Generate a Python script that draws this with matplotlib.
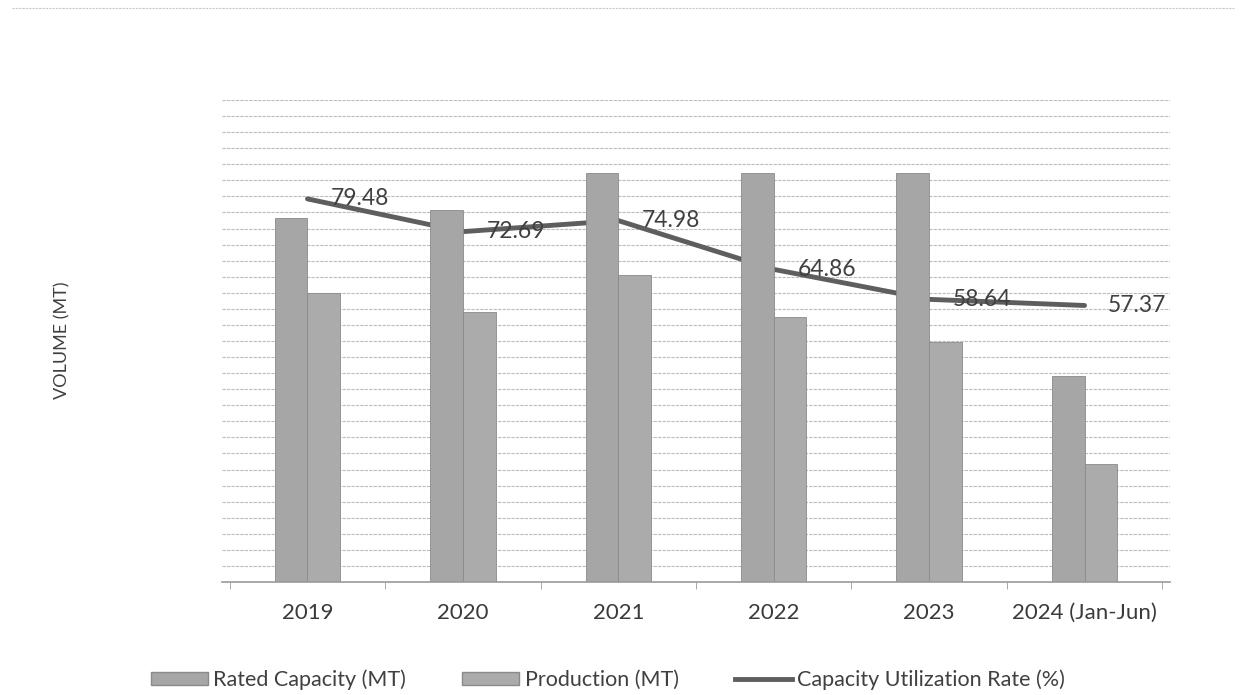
import matplotlib
matplotlib.use("Agg")
import matplotlib.pyplot as plt
from matplotlib.lines import Line2D
from matplotlib.patches import Patch
import numpy as np

categories = ["2019", "2020", "2021", "2022", "2023", "2024 (Jan-Jun)"]
rated_capacity = [226.5, 231.5, 254.5, 254.5, 254.5, 128.0]
production = [180.0, 168.3, 190.8, 165.1, 149.2, 73.4]
utilization = [79.48, 72.69, 74.98, 64.86, 58.64, 57.37]

plt.rcParams['font.family'] = ['Lato', 'DejaVu Sans']

fig = plt.figure(figsize=(12.46, 6.95), dpi=100)
ax = fig.add_axes([222/1246, 1-582/695, (1170-222)/1246, (582-100)/695])
ax.set_axisbelow(True)

x = np.arange(len(categories))
w = 0.21
bar_color = '#a6a6a6'
prod_color = '#ababab'
ax.bar(x - w/2, rated_capacity, width=w, color=bar_color, edgecolor='#8a8a8a', linewidth=0.6, zorder=2)
ax.bar(x + w/2, production, width=w, color=prod_color, edgecolor='#8a8a8a', linewidth=0.6, zorder=2)

ax.set_xlim(-0.55, len(categories) - 0.45)
ax.set_ylim(0, 300)
ax.set_yticks(np.arange(0, 301, 10))
ax.yaxis.grid(True, color='#bdbdbd', linewidth=0.8, linestyle=(0, (3, 1)))
ax.tick_params(axis='y', length=0, labelleft=False)
for s in ['left', 'right', 'top']:
    ax.spines[s].set_visible(False)
ax.spines['bottom'].set_color('#9a9a9a')
ax.spines['bottom'].set_linewidth(1.2)
ax.spines['bottom'].set_zorder(3)

ax.set_xticks(x)
ax.set_xticklabels(categories, fontsize=16, color='#3a3a3a')
ax.tick_params(axis='x', which='major', length=0, pad=15)
ax.set_xticks(np.arange(-0.5, len(categories), 1), minor=True)
ax.tick_params(axis='x', which='minor', length=5, color='#9a9a9a', direction='out')

# secondary axis (0-100 %) for the utilization rate
ax2 = ax.twinx()
ax2.set_ylim(0, 100)
ax2.axis('off')
# line drawn on the primary axes (behind the bars) using the secondary scale
ax.plot(x, utilization, transform=ax2.transData, color='#5e5e5e', linewidth=3.5,
        solid_capstyle='round', zorder=1.8)
ax.set_ylim(0, 300)
for xi, v in zip(x, utilization):
    ax2.annotate(f"{v:.2f}", (xi, v), xytext=(17, 0), textcoords='offset points',
                 fontsize=16.5, color='#404040', va='center', ha='left')

fig.text(62/1246, 1-340/695, "VOLUME (MT)", rotation=90, fontsize=13,
         color='#404040', ha='center', va='center')

handles = [Patch(facecolor=bar_color, edgecolor='#8a8a8a'),
           Patch(facecolor=prod_color, edgecolor='#8a8a8a'),
           Line2D([0], [0], color='#5e5e5e', linewidth=3.5)]
labels = ["Rated Capacity (MT)", "Production (MT)", "Capacity Utilization Rate (%)"]
fig.legend(handles, labels, loc='center', bbox_to_anchor=(608/1246, 1-680/695), ncol=3,
           frameon=False, fontsize=15.5, handlelength=2.65, handleheight=0.55,
           columnspacing=2.6, handletextpad=0.25, labelcolor='#404040')

fig.add_artist(Line2D([0.01, 0.99], [1-8/695, 1-8/695], color='#c8c8c8', linewidth=0.8,
                      linestyle=(0, (2, 1))))

fig.savefig("out.png", dpi=100, facecolor='white')
